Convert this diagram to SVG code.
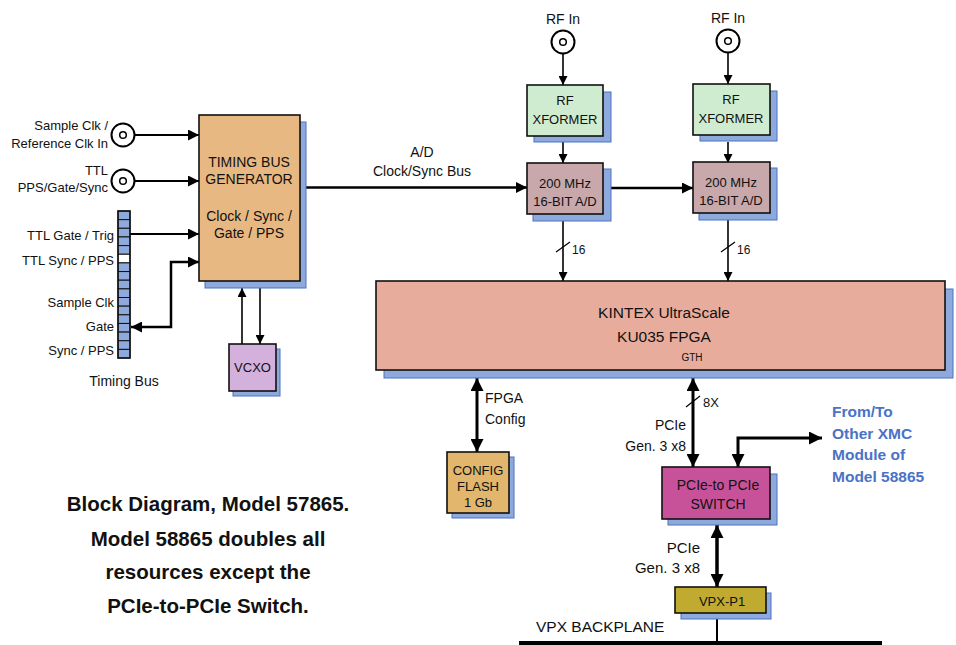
<svg xmlns="http://www.w3.org/2000/svg" width="956" height="645" viewBox="0 0 956 645">
<defs>
<style>
text{font-family:"Liberation Sans",Arial,sans-serif;fill:#111;}
.l13{font-size:13px;}
.l14{font-size:14px;}
.c{text-anchor:middle;}
.r{text-anchor:end;}
.box{stroke:#111;stroke-width:1.6;}
.sh{fill:#8eaadc;stroke:#4a72c4;stroke-width:1;}
.ln{fill:none;stroke:#000;}
.cell{fill:#8eaadc;stroke:#111;stroke-width:1;}
.blue{fill:#4a72c6;font-weight:bold;font-size:15.5px;}
.cap{font-weight:bold;font-size:20.5px;text-anchor:middle;}
</style>
<marker id="s" viewBox="0 0 10 10" refX="10" refY="5" markerWidth="9" markerHeight="9" markerUnits="userSpaceOnUse" orient="auto-start-reverse"><path d="M0,0 L10,5 L0,10 z" fill="#000"/></marker>
<marker id="m" viewBox="0 0 10 10" refX="10" refY="5" markerWidth="12" markerHeight="11" markerUnits="userSpaceOnUse" orient="auto-start-reverse"><path d="M0,0 L10,5 L0,10 z" fill="#000"/></marker>
<marker id="b" viewBox="0 0 10 10" refX="10" refY="5" markerWidth="13" markerHeight="13" markerUnits="userSpaceOnUse" orient="auto-start-reverse"><path d="M0,0 L10,5 L0,10 z" fill="#000"/></marker>
</defs>
<rect width="956" height="645" fill="#fff"/>

<g id="connectors">
<line class="ln" x1="126" y1="135" x2="199" y2="135" stroke-width="2.2" marker-end="url(#m)"/>
<line class="ln" x1="126" y1="181" x2="199" y2="181" stroke-width="2.2" marker-end="url(#m)"/>
<line class="ln" x1="130" y1="234" x2="199" y2="234" stroke-width="2.2" marker-end="url(#m)"/>
<path class="ln" d="M131,327 H171 V262 H199" stroke-width="2.5" marker-start="url(#m)" marker-end="url(#m)"/>
<line class="ln" x1="242" y1="344" x2="242" y2="288" stroke-width="1.6" marker-end="url(#s)"/>
<line class="ln" x1="260" y1="288" x2="260" y2="344" stroke-width="1.6" marker-end="url(#s)"/>
<line class="ln" x1="306" y1="187.5" x2="527" y2="187.5" stroke-width="2.5" marker-end="url(#m)"/>
<line class="ln" x1="603" y1="188" x2="693" y2="188" stroke-width="2.5" marker-end="url(#m)"/>
<line class="ln" x1="563" y1="45" x2="563" y2="85" stroke-width="1.6" marker-end="url(#s)"/>
<line class="ln" x1="728" y1="45" x2="728" y2="84" stroke-width="1.6" marker-end="url(#s)"/>
<line class="ln" x1="563" y1="142" x2="563" y2="163" stroke-width="1.6" marker-end="url(#s)"/>
<line class="ln" x1="728" y1="142" x2="728" y2="163" stroke-width="1.6" marker-end="url(#s)"/>
<line class="ln" x1="563" y1="221" x2="563" y2="281" stroke-width="1.6" marker-end="url(#s)"/>
<line class="ln" x1="556" y1="252" x2="570" y2="242" stroke-width="1.2"/>
<line class="ln" x1="728" y1="220" x2="728" y2="281" stroke-width="1.6" marker-end="url(#s)"/>
<line class="ln" x1="721" y1="252" x2="735" y2="242" stroke-width="1.2"/>
<line class="ln" x1="477" y1="378" x2="477" y2="452" stroke-width="3" marker-start="url(#b)" marker-end="url(#b)"/>
<line class="ln" x1="693" y1="378" x2="693" y2="467" stroke-width="3" marker-start="url(#b)" marker-end="url(#b)"/>
<line class="ln" x1="686" y1="407" x2="700" y2="396" stroke-width="1.2"/>
<path class="ln" d="M738,467 V438 H822" stroke-width="3" marker-start="url(#b)" marker-end="url(#b)"/>
<line class="ln" x1="717" y1="525" x2="717" y2="587" stroke-width="3.5" marker-start="url(#b)" marker-end="url(#b)"/>
<line class="ln" x1="717" y1="619" x2="717" y2="643" stroke-width="2"/>
<line class="ln" x1="519" y1="643" x2="882" y2="643" stroke-width="4"/>
</g>

<g id="conn-sample-clk">
<circle cx="123" cy="135" r="11.5" fill="#fff" stroke="#000" stroke-width="2"/>
<circle cx="123" cy="135" r="3.3" fill="#fff" stroke="#000" stroke-width="1.5"/>
<text class="l13 r" x="108" y="130">Sample Clk /</text>
<text class="l13 r" x="108" y="148">Reference Clk In</text>
</g>
<g id="conn-ttl">
<circle cx="123" cy="181" r="11.5" fill="#fff" stroke="#000" stroke-width="2"/>
<circle cx="123" cy="181" r="3.3" fill="#fff" stroke="#000" stroke-width="1.5"/>
<text class="l13 r" x="108" y="175">TTL</text>
<text class="l13 r" x="108" y="192">PPS/Gate/Sync</text>
</g>

<g id="timing-bus">
<rect class="cell" x="118" y="211" width="12" height="8.65"/>
<rect class="cell" x="118" y="219.65" width="12" height="8.65"/>
<rect class="cell" x="118" y="228.3" width="12" height="8.65"/>
<rect class="cell" x="118" y="236.95" width="12" height="8.65"/>
<rect class="cell" x="118" y="245.6" width="12" height="8.65"/>
<rect x="118" y="254.25" width="12" height="8.65" fill="#fff" stroke="#111" stroke-width="1"/>
<rect class="cell" x="118" y="262.9" width="12" height="8.65"/>
<rect class="cell" x="118" y="271.55" width="12" height="8.65"/>
<rect class="cell" x="118" y="280.2" width="12" height="8.65"/>
<rect class="cell" x="118" y="288.85" width="12" height="8.65"/>
<rect class="cell" x="118" y="297.5" width="12" height="8.65"/>
<rect class="cell" x="118" y="306.15" width="12" height="8.65"/>
<rect class="cell" x="118" y="314.8" width="12" height="8.65"/>
<rect class="cell" x="118" y="323.45" width="12" height="8.65"/>
<rect class="cell" x="118" y="332.1" width="12" height="8.65"/>
<rect class="cell" x="118" y="340.75" width="12" height="8.65"/>
<rect class="cell" x="118" y="349.4" width="12" height="8.6"/>
<rect x="118" y="211" width="12" height="147" fill="none" stroke="#111" stroke-width="1.5"/>
<text class="l13 r" x="114" y="240">TTL Gate / Trig</text>
<text class="l13 r" x="114" y="265">TTL Sync / PPS</text>
<text class="l13 r" x="114" y="307">Sample Clk</text>
<text class="l13 r" x="114" y="331">Gate</text>
<text class="l13 r" x="114" y="355">Sync / PPS</text>
<text class="l14 c" x="124" y="386">Timing Bus</text>
</g>

<g id="timing-bus-generator">
<rect class="sh" x="205" y="122" width="101" height="166"/>
<rect class="box" x="199" y="115" width="101" height="166" fill="#e8b882"/>
<text class="l14 c" x="249" y="167">TIMING BUS</text>
<text class="l14 c" x="249" y="184">GENERATOR</text>
<text class="l14 c" x="249" y="221">Clock / Sync /</text>
<text class="l14 c" x="249" y="238">Gate / PPS</text>
</g>

<g id="vcxo">
<rect class="sh" x="233" y="349" width="47" height="47"/>
<rect class="box" x="229" y="344" width="47" height="47" fill="#d4b0dc"/>
<text class="l13 c" x="252.5" y="372">VCXO</text>
</g>

<text class="l14 c" x="422" y="157">A/D</text>
<text class="l14 c" x="422" y="176">Clock/Sync Bus</text>

<g id="rf-in-1">
<text class="l14 c" x="563" y="24">RF In</text>
<circle cx="563" cy="42" r="11.5" fill="#fff" stroke="#000" stroke-width="2"/>
<circle cx="563" cy="42" r="3.3" fill="#fff" stroke="#000" stroke-width="1.5"/>
</g>
<g id="rf-in-2">
<text class="l14 c" x="728" y="23">RF In</text>
<circle cx="728" cy="41" r="11.5" fill="#fff" stroke="#000" stroke-width="2"/>
<circle cx="728" cy="41" r="3.3" fill="#fff" stroke="#000" stroke-width="1.5"/>
</g>

<g id="xformer-1">
<rect class="sh" x="534" y="92" width="77" height="50"/>
<rect class="box" x="527" y="85" width="76" height="51" fill="#d0ecd0"/>
<text class="l13 c" x="565" y="105">RF</text>
<text class="l13 c" x="565" y="124">XFORMER</text>
</g>
<g id="xformer-2">
<rect class="sh" x="700" y="91" width="77" height="50"/>
<rect class="box" x="693" y="84" width="77" height="51" fill="#d0ecd0"/>
<text class="l13 c" x="731" y="104">RF</text>
<text class="l13 c" x="731" y="123">XFORMER</text>
</g>

<g id="adc-1">
<rect class="sh" x="533" y="169" width="78" height="52"/>
<rect class="box" x="527" y="163" width="76" height="51" fill="#c8a8aa"/>
<text class="l13 c" x="565" y="188">200 MHz</text>
<text class="l13 c" x="565" y="206">16-BIT A/D</text>
</g>
<g id="adc-2">
<rect class="sh" x="699" y="168" width="78" height="52"/>
<rect class="box" x="693" y="162" width="77" height="51" fill="#c8a8aa"/>
<text class="l13 c" x="731" y="187">200 MHz</text>
<text class="l13 c" x="731" y="205">16-BIT A/D</text>
</g>
<text x="572" y="254" font-size="12">16</text>
<text x="737" y="254" font-size="12">16</text>

<g id="fpga">
<rect class="sh" x="384" y="289" width="569" height="89"/>
<rect class="box" x="376" y="281" width="569" height="89" fill="#e8ac9c"/>
<text class="c" x="664" y="318" font-size="15.5">KINTEX UltraScale</text>
<text class="c" x="664" y="342" font-size="15.5">KU035 FPGA</text>
<text class="c" x="692" y="361" font-size="10">GTH</text>
</g>

<text class="l14" x="485" y="403">FPGA</text>
<text class="l14" x="485" y="424">Config</text>

<g id="config-flash">
<rect class="sh" x="452" y="457" width="62" height="61"/>
<rect class="box" x="447" y="452" width="62" height="61" fill="#e2b66c"/>
<text class="l13 c" x="478" y="475">CONFIG</text>
<text class="l13 c" x="478" y="491">FLASH</text>
<text class="l13 c" x="478" y="507">1 Gb</text>
</g>

<text class="l13" x="703" y="407">8X</text>
<text class="l14 r" x="686" y="430">PCIe</text>
<text class="l14 r" x="686" y="451">Gen. 3 x8</text>

<g id="pcie-switch">
<rect class="sh" x="668" y="474" width="109" height="51"/>
<rect class="box" x="662" y="467" width="108" height="52" fill="#c8529a"/>
<text class="l14 c" x="718" y="490">PCIe-to PCIe</text>
<text class="l14 c" x="718" y="509">SWITCH</text>
</g>

<g id="from-to">
<text class="blue" x="832" y="417">From/To</text>
<text class="blue" x="832" y="439">Other XMC</text>
<text class="blue" x="832" y="460">Module of</text>
<text class="blue" x="832" y="482">Model 58865</text>
</g>

<text class="r" x="700" y="553" font-size="15">PCIe</text>
<text class="r" x="700" y="573" font-size="15">Gen. 3 x8</text>

<g id="vpx-p1">
<rect class="sh" x="681" y="593" width="90" height="26"/>
<rect class="box" x="675" y="587" width="91" height="26" fill="#c0aa30"/>
<text class="l13 c" x="722" y="606">VPX-P1</text>
</g>
<text x="536" y="632" font-size="15.5">VPX BACKPLANE</text>

<g id="caption">
<text class="cap" x="208" y="511">Block Diagram, Model 57865.</text>
<text class="cap" x="208" y="546">Model 58865 doubles all</text>
<text class="cap" x="208" y="579">resources except the</text>
<text class="cap" x="208" y="613">PCIe-to-PCIe Switch.</text>
</g>
</svg>
